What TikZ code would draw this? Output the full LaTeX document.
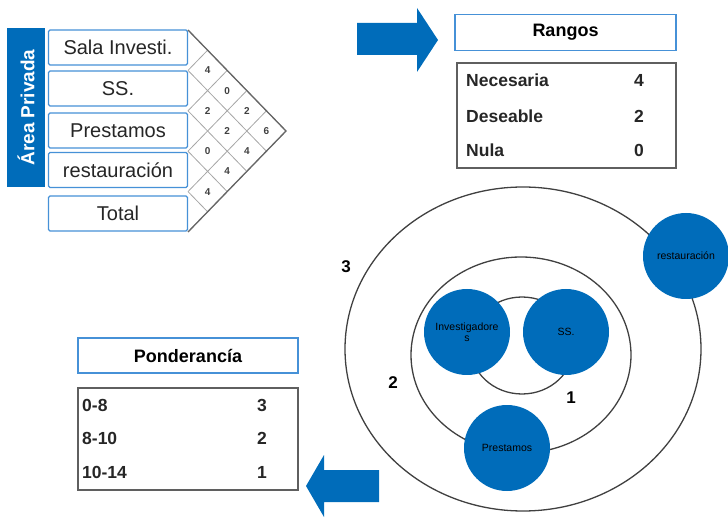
\documentclass[tikz,border=0pt]{standalone}
\usepackage{fontspec}
\setmainfont{Liberation Sans}
\definecolor{azul}{RGB}{0,108,186}
\definecolor{azulborde}{RGB}{70,145,215}
\definecolor{gris}{RGB}{95,95,95}
\tikzset{
  caja/.style={draw=azulborde, line width=1.4pt, fill=white, rounded corners=1.5pt,
    minimum width=139pt, minimum height=35pt, inner sep=0pt,
    font=\fontsize{20}{20}\selectfont, text=black!85},
  titulo/.style={draw=azulborde, line width=1.6pt, minimum width=221pt,
    minimum height=36pt, inner sep=0pt, font=\fontsize{18}{18}\selectfont\bfseries},
  tabla/.style={draw=gris, line width=1.3pt, inner sep=0pt},
  fila/.style={inner sep=0pt, font=\fontsize{17.5}{17.5}\selectfont\bfseries, text=black!85},
  valor/.style={inner sep=0pt, font=\fontsize{10}{10}\selectfont\bfseries, text=black!75},
  rejilla/.style={draw=black!35, line width=0.8pt},
  anillo/.style={draw=black!75, line width=1.3pt},
  bola/.style={circle, fill=azul, minimum size=86pt, inner sep=0pt, align=center,
    font=\fontsize{10.5}{11.5}\selectfont},
  nivel/.style={inner sep=0pt, font=\fontsize{17}{17}\selectfont\bfseries}
}
\begin{document}
\begin{tikzpicture}[x=1pt, y=-1pt]
    \useasboundingbox (0,0) rectangle (728,518);
    % Matriz de relaciones
    \node[fill=azul, minimum width=38pt, minimum height=159pt, inner sep=0pt] (area) at (26,107.5) {};
    \node[rotate=90, text=white, font=\fontsize{19}{19}\selectfont\bfseries] (areatxt) at (area) {Área Privada};
    \foreach \n/\t/\y in {sala/Sala Investi./47.5, ss/SS./88.5, prest/Prestamos/130.5,
        rest/restauración/170, total/Total/213.5}
        \node[caja] (\n) at (118,\y) {\t};
    \foreach \k in {0,...,5}{
        \draw[rejilla] (188,{30+40.4*\k}) -- ++({19.6*(5-\k)},{20.2*(5-\k)});
        \draw[rejilla] (188,{30+40.4*\k}) -- ++({19.6*\k},{-20.2*\k});
    }
    \draw[draw=black!60, line width=1.3pt] (188,30) -- (286,131) -- (188,232);
    \foreach \i/\j/\v in {1/2/4, 1/3/0, 2/3/2, 1/4/2, 2/4/2, 1/5/6, 3/4/0, 2/5/4, 3/5/4, 4/5/4}
        \node[valor] (v\i\j) at ({188+19.6*(\j-\i)},{30+20.2*(\i+\j-1)}) {\v};
    % Flecha derecha y rangos
    \fill[azul] (357,23) -- (417,23) -- (417,8) -- (438,40) -- (417,72) -- (417,55) -- (357,55) -- cycle;
    \node[titulo] (rangos) at (565.5,32.5) {Rangos};
    \node[tabla, minimum width=219pt, minimum height=105pt] (trangos) at (566.5,115.5) {};
    \foreach \n/\t/\v/\y in {nec/Necesaria/4/80, des/Deseable/2/116, nul/Nula/0/150}{
        \node[fila, anchor=west] (\n) at (466,\y) {\t};
        \node[fila] (\n v) at (639,\y) {\v};
    }
    % Anillos
    \draw[anillo] (523,349) ellipse [x radius=178, y radius=162];
    \draw[anillo] (521,355) ellipse [x radius=110, y radius=98];
    \draw[anillo] (522,345.5) ellipse [x radius=52, y radius=48.5];
    \node[bola] (binv) at (467,332) {Investigadore\\s};
    \node[bola] (bss) at (566,332) {SS.};
    \node[bola] (bpre) at (507,448) {Prestamos};
    \node[bola] (bres) at (686,256) {restauración};
    \node[nivel] (n3) at (346,267) {3};
    \node[nivel] (n2) at (393,383) {2};
    \node[nivel] (n1) at (571,398) {1};
    % Flecha izquierda y ponderancia
    \fill[azul] (379,470) -- (324,470) -- (324,455) -- (306,486) -- (324,517) -- (324,502) -- (379,502) -- cycle;
    \node[titulo, minimum width=220pt, minimum height=35pt] (ponder) at (188,355.5) {Ponderancía};
    \node[tabla, minimum width=220pt, minimum height=102pt] (tponder) at (188,439) {};
    \foreach \n/\t/\v/\y in {pa/0-8/3/405, pb/8-10/2/438, pc/10-14/1/472}{
        \node[fila, anchor=west] (\n) at (82,\y) {\t};
        \node[fila] (\n v) at (262,\y) {\v};
    }
\end{tikzpicture}
\end{document}
